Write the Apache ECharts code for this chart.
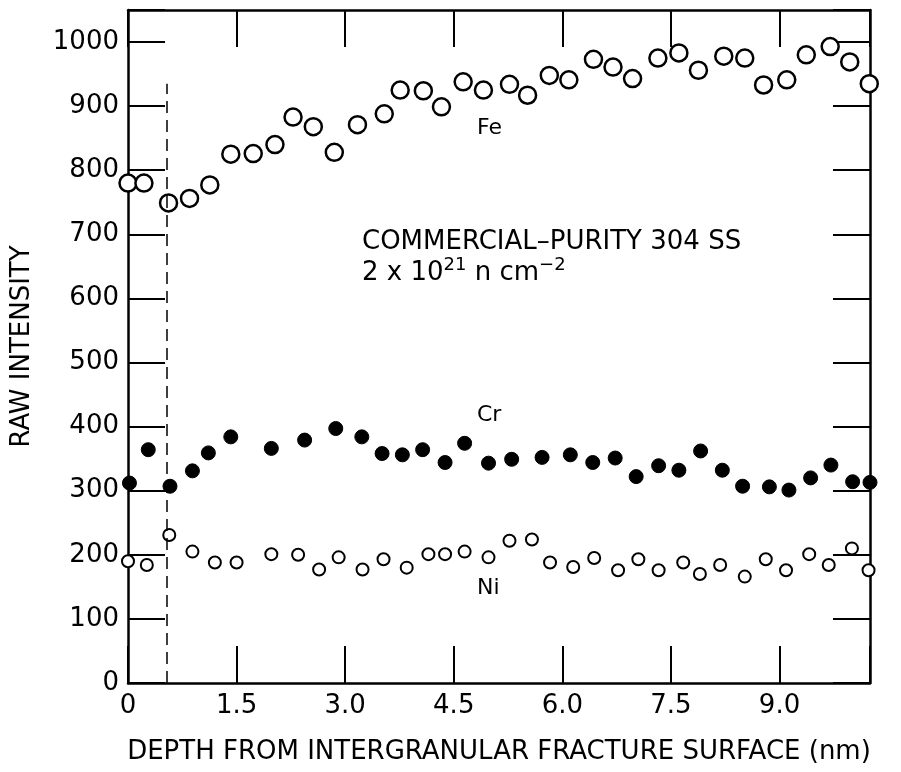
<!DOCTYPE html>
<html>
<head>
<meta charset="utf-8">
<script src="https://cdn.jsdelivr.net/npm/echarts@6/dist/echarts.min.js"></script>
<style>
  html, body { margin: 0; padding: 0; background: #fff; }
  #chart { width: 901px; height: 772px; }
</style>
</head>
<body>
<div id="chart"></div>
<script>
const feDepth = [0, 0.22, 0.56, 0.85, 1.13, 1.42, 1.73, 2.03, 2.28, 2.56, 2.85, 3.17, 3.54, 3.76, 4.08, 4.33,
  4.63, 4.91, 5.27, 5.52, 5.82, 6.09, 6.43, 6.70, 6.97, 7.32, 7.61, 7.88, 8.23, 8.52, 8.78, 9.10, 9.37, 9.70, 9.97, 10.24]
const feIntensity = [780, 780, 749, 756, 777, 825, 826, 840, 883, 868, 828, 871, 888, 925, 924, 899,
  938, 925, 934, 917, 948, 941, 973, 961, 943, 975, 983, 956, 978, 975, 933, 941, 980, 993, 969, 935]

const crDepth = [0.02, 0.28, 0.58, 0.89, 1.11, 1.42, 1.98, 2.44, 2.87, 3.23, 3.51, 3.79, 4.07, 4.38,
  4.65, 4.98, 5.30, 5.72, 6.11, 6.42, 6.73, 7.02, 7.33, 7.61, 7.91, 8.21, 8.49, 8.86, 9.13, 9.43, 9.71, 10.01, 10.25]
const crIntensity = [312, 364, 307, 331, 359, 384, 366, 379, 397, 384, 358, 356, 364, 344,
  374, 343, 349, 352, 356, 344, 351, 322, 339, 332, 362, 332, 307, 306, 301, 320, 340, 314, 313]

const niDepth = [0, 0.26, 0.57, 0.89, 1.20, 1.50, 1.98, 2.35, 2.64, 2.91, 3.24, 3.53, 3.85, 4.15, 4.38,
  4.65, 4.98, 5.27, 5.58, 5.83, 6.15, 6.44, 6.77, 7.05, 7.33, 7.67, 7.90, 8.18, 8.52, 8.81, 9.09, 9.41, 9.68, 10.0, 10.23]
const niIntensity = [190, 184, 231, 205, 188, 188, 201, 200, 177, 196, 177, 193, 180, 201, 201,
  205, 196, 222, 224, 188, 181, 195, 176, 193, 176, 188, 170, 184, 166, 193, 176, 201, 184, 210, 176]

// dashed marker for the surface layer
const surfaceLine = [[0.535, 0], [0.535, 935]]

const xTicks = [0, 1.5, 3.0, 4.5, 6.0, 7.5, 9.0]

const pairs = (xs, ys) => xs.map((x, i) => [x, ys[i]])

const font = 'DejaVu Sans'
const ink = '#000'

const chart = echarts.init(document.getElementById('chart'))

const axisCommon = {
  axisLine: { show: true, onZero: false, lineStyle: { color: ink, width: 2.5 } },
  axisTick: { show: true, inside: true, length: 37, lineStyle: { color: ink, width: 2 } },
  splitLine: { show: false }
}

const label = (text, left, top) => ({
  type: 'text', left, top,
  style: { text, fontFamily: font, fontSize: 22, fill: ink }
})

const option = {
  backgroundColor: '#fff',
  animation: false,
  grid: { left: 128, right: 31, top: 10, bottom: 89 },
  xAxis: [
    {
      type: 'value',
      position: 'bottom',
      min: 0,
      max: 10.25,
      interval: 1.5,
      ...axisCommon,
      axisLabel: {
        color: ink,
        fontFamily: font,
        fontSize: 26,
        margin: 10,
        formatter: v => {
          const t = xTicks.find(k => Math.abs(k - v) < 1e-6)
          if (t === undefined) return ''
          return t === 0 ? '0' : t.toFixed(1)
        }
      },
      name: 'DEPTH FROM INTERGRANULAR FRACTURE SURFACE (nm)',
      nameLocation: 'middle',
      nameGap: 56,
      nameTextStyle: { color: ink, fontFamily: font, fontSize: 26 }
    },
    {
      type: 'value',
      position: 'top',
      min: 0,
      max: 10.25,
      interval: 1.5,
      ...axisCommon,
      axisLabel: { show: false }
    }
  ],
  yAxis: [
    {
      type: 'value',
      position: 'left',
      min: 0,
      max: 1050,
      interval: 100,
      ...axisCommon,
      axisLabel: {
        color: ink,
        fontFamily: font,
        fontSize: 26,
        margin: 9,
        formatter: v => (v > 1000 ? '' : String(v))
      },
      name: 'RAW INTENSITY',
      nameLocation: 'middle',
      nameGap: 93,
      nameTextStyle: { color: ink, fontFamily: font, fontSize: 26 }
    },
    {
      type: 'value',
      position: 'right',
      min: 0,
      max: 1050,
      interval: 100,
      ...axisCommon,
      axisLabel: { show: false }
    }
  ],
  series: [
    {
      name: 'Fe',
      type: 'scatter',
      data: pairs(feDepth, feIntensity),
      symbol: 'circle',
      symbolSize: 17,
      itemStyle: { color: '#fff', borderColor: ink, borderWidth: 2.5, opacity: 1 },
      markLine: {
        silent: true,
        symbol: 'none',
        label: { show: false },
        lineStyle: { color: ink, type: [12, 7], width: 1.5 },
        data: [[{ coord: surfaceLine[0] }, { coord: surfaceLine[1] }]]
      },
      z: 3
    },
    {
      name: 'Cr',
      type: 'scatter',
      data: pairs(crDepth, crIntensity),
      symbol: 'circle',
      symbolSize: 14,
      itemStyle: { color: ink, borderColor: ink, borderWidth: 1, opacity: 1 },
      z: 3
    },
    {
      name: 'Ni',
      type: 'scatter',
      data: pairs(niDepth, niIntensity),
      symbol: 'circle',
      symbolSize: 12,
      itemStyle: { color: '#fff', borderColor: ink, borderWidth: 2, opacity: 1 },
      z: 3
    }
  ],
  graphic: [
    label('Fe', 477, 117),
    label('Cr', 477, 404),
    label('Ni', 477, 577),
    {
      type: 'text', left: 362, top: 229,
      style: { text: 'COMMERCIAL–PURITY 304 SS', fontFamily: font, fontSize: 26, fill: ink }
    },
    {
      type: 'text', left: 362, top: 256,
      style: {
        text: '{b|2 x 10}{s|21}{b| n cm}{s|−2}',
        fill: ink,
        rich: {
          b: { fontFamily: font, fontSize: 26, color: ink, verticalAlign: 'bottom' },
          s: { fontFamily: font, fontSize: 18, color: ink, verticalAlign: 'top', padding: [0, 0, 12, 0] }
        }
      }
    }
  ]
}

chart.setOption(option)
window.addEventListener('resize', () => chart.resize())
</script>
</body>
</html>
